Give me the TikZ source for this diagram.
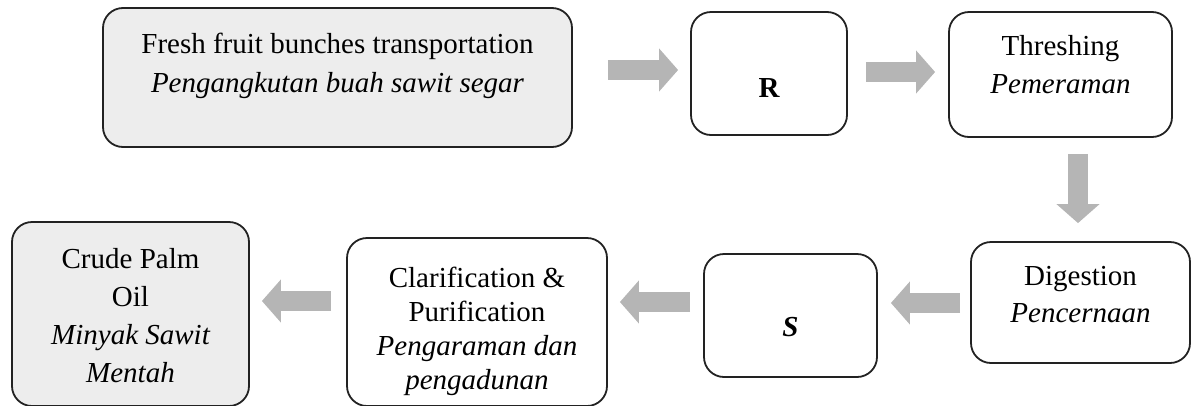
\documentclass[tikz,border=0pt]{standalone}
\usepackage{fontspec}
\setmainfont{Liberation Serif}
\usetikzlibrary{arrows.meta}
\definecolor{boxline}{HTML}{222222}
\definecolor{boxfill}{HTML}{EDEDED}
\definecolor{arrowgray}{HTML}{B5B5B5}
\newcommand\stagetext[2]{\fontsize{29}{#1}\selectfont\begin{tabular}[t]{@{}c@{}}#2\end{tabular}}
\tikzset{
  stage/.style={draw=boxline, line width=1.8pt, rounded corners=20pt, inner sep=0pt},
  flow/.style={draw=arrowgray, line width=20pt, -{Triangle[width=42pt,length=19pt]}},
}
\begin{document}
\begin{tikzpicture}[x=1pt,y=-1pt]
\useasboundingbox (0,0) rectangle (1194,405);
\clip (0,0) rectangle (1194,405);

\node[stage, fill=boxfill, minimum width=469pt, minimum height=139pt, text height=0pt, text depth=49pt] (fresh) at (337.5,77.5)
  {\stagetext{39pt}{Fresh fruit bunches transportation\\\itshape Pengangkutan buah sawit segar}};
\node[stage, minimum width=156pt, minimum height=123pt, text height=47pt, text depth=0pt] (R) at (769,73.5)
  {\fontsize{29}{38}\selectfont\bfseries R};
\node[stage, minimum width=223pt, minimum height=125pt, text height=0pt, text depth=39pt] (thr) at (1060.5,74.5)
  {\stagetext{38pt}{Threshing\\\itshape Pemeraman}};
\node[stage, minimum width=219pt, minimum height=121pt, text height=0pt, text depth=35pt] (dig) at (1080.5,302.5)
  {\stagetext{37pt}{Digestion\\\itshape Pencernaan}};
\node[stage, minimum width=173pt, minimum height=123pt, text height=41pt, text depth=0pt] (S) at (790.5,315.5)
  {\fontsize{29}{38}\selectfont\bfseries\itshape S};
\node[stage, minimum width=260pt, minimum height=168pt, text height=0pt, text depth=70pt] (cla) at (477,322)
  {\stagetext{34pt}{Clarification \&\\Purification\\\itshape Pengaraman dan\\\itshape pengadunan}};
\node[stage, fill=boxfill, minimum width=237pt, minimum height=184pt, text height=0pt, text depth=92pt] (crude) at (130.5,314)
  {\stagetext{38pt}{Crude Palm\\Oil\\\itshape Minyak Sawit\\\itshape Mentah}};

\coordinate (r1) at (0,70);
\coordinate (r2) at (0,72);
\coordinate (c3) at (1078,0);
\coordinate (r4) at (0,303);
\coordinate (r5) at (0,302);
\coordinate (r6) at (0,301);

\draw[flow, shorten <=35pt, shorten >=12pt] (fresh.east |- r1) -- (R.west |- r1);
\draw[flow, shorten <=18pt, shorten >=13pt] (R.east |- r2) -- (thr.west |- r2);
\draw[flow, shorten <=16pt, shorten >=18pt] (thr.south -| c3) -- (dig.north -| c3);
\draw[flow, shorten <=10pt, shorten >=13pt] (dig.west |- r4) -- (S.east |- r4);
\draw[flow, shorten <=13pt, shorten >=12pt] (S.west |- r5) -- (cla.east |- r5);
\draw[flow, shorten <=15pt, shorten >=12pt] (cla.west |- r6) -- (crude.east |- r6);
\end{tikzpicture}
\end{document}
